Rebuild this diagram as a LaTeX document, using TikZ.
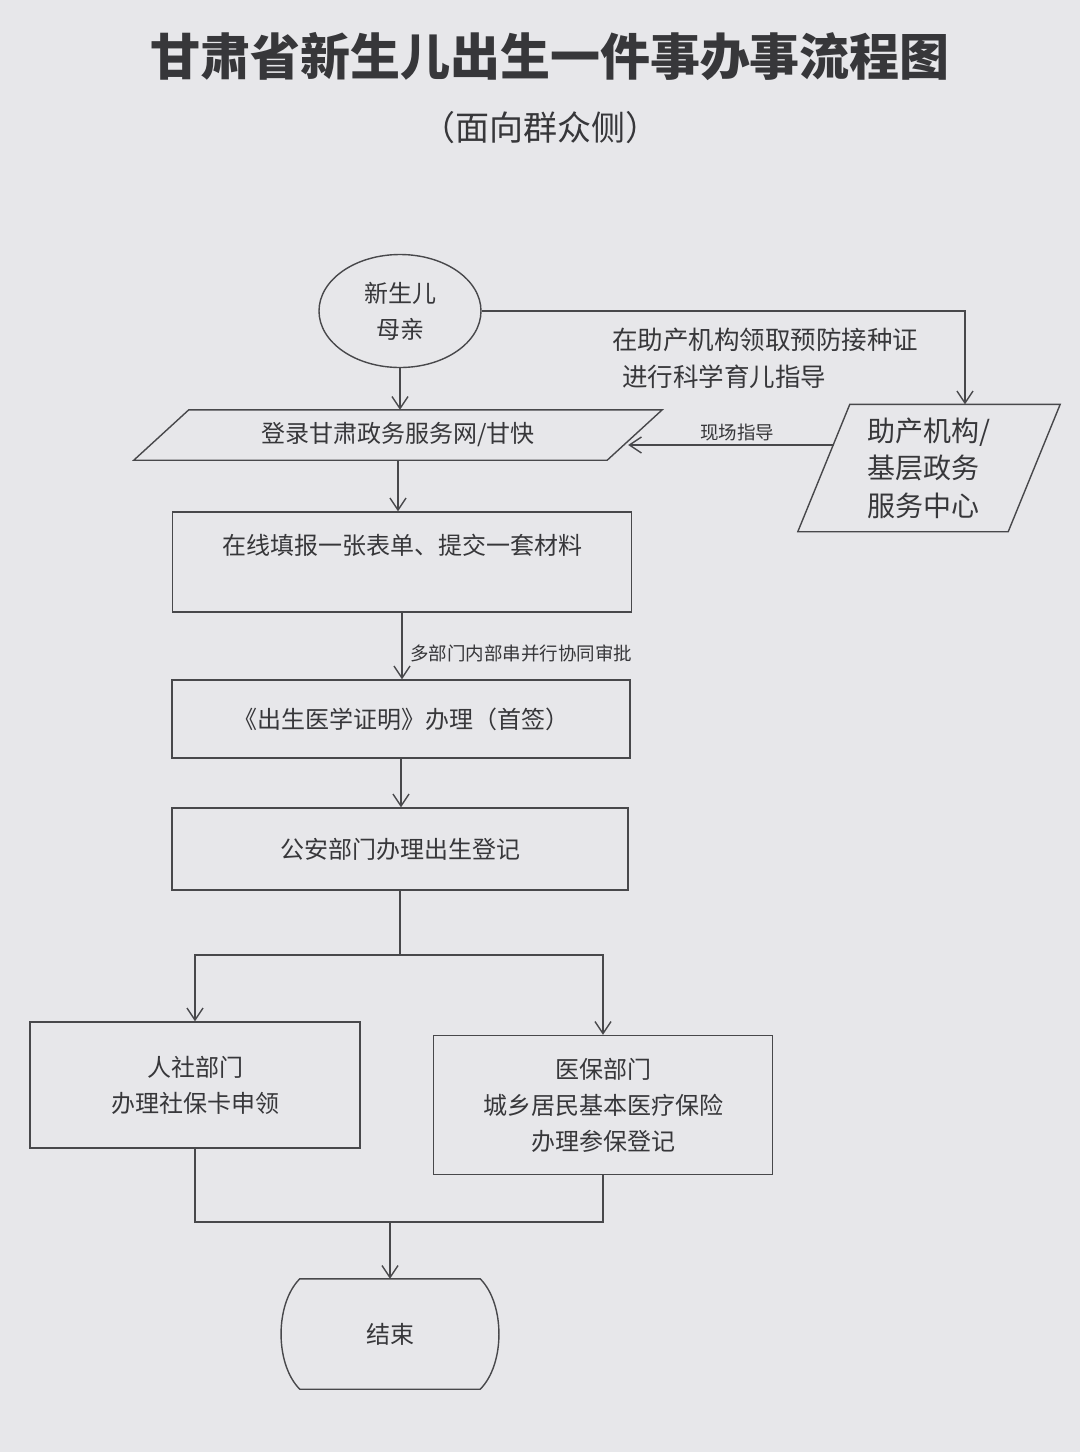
\documentclass[tikz,border=0pt]{standalone}
\usepackage{fontspec}
\setmainfont{Noto Sans CJK SC}
\usetikzlibrary{arrows.meta,calc,shapes.geometric}
\definecolor{paper}{RGB}{231,231,234}
\definecolor{ink}{RGB}{72,72,75}
\definecolor{txt}{RGB}{55,55,58}
\begin{document}
\begin{tikzpicture}[x=1pt,y=-1pt,
  line/.style={draw=ink,line width=1.4pt},
  arr/.style={line,-{Straight Barb[length=12pt,width=16pt]}},
  body/.style={text=txt,font=\fontsize{24}{36}\selectfont,align=center,inner sep=0pt},
  small/.style={text=txt,font=\fontsize{18.5}{22}\selectfont,inner sep=0pt},
  box/.style={line,body,rectangle}]
\fill[paper] (0,0) rectangle (1080,1452);
\useasboundingbox (0,0) rectangle (1080,1452);
% titles
\node[text=txt,font=\fontsize{50}{56}\selectfont\bfseries] (title) at (550,57) {甘肃省新生儿出生一件事办事流程图};
\node[text=txt,font=\fontsize{34}{40}\selectfont] (sub) at (540,128) {（面向群众侧）};
% nodes
\node[line,body,ellipse,minimum width=162,minimum height=113] (mother) at (400,311) {新生儿\\母亲};
\node[body,minimum width=528,minimum height=50] (login) at (398,435) {登录甘肃政务服务网/甘快};
\draw[line] ([xshift=55]login.north west) -- (login.north east) -- ([xshift=-55]login.south east) -- (login.south west) -- cycle;
\node[body,align=left,font=\fontsize{28}{37.5}\selectfont,minimum width=262,minimum height=127] (help) at (929,468) {助产机构/\\基层政务\\服务中心};
\draw[line] ([xshift=52]help.north west) -- (help.north east) -- ([xshift=-52]help.south east) -- (help.south west) -- cycle;
\node[box,minimum width=459,minimum height=100] (fill) at (402,562) {在线填报一张表单、提交一套材料\\\mbox{}};
\node[box,minimum width=458,minimum height=78] (cert) at (401,719) {《出生医学证明》办理（首签）};
\node[box,minimum width=456,minimum height=82] (police) at (400,849) {公安部门办理出生登记};
\node[box,minimum width=330,minimum height=126] (rs) at (195,1085) {人社部门\\办理社保卡申领};
\node[box,minimum width=339,minimum height=139] (yb) at (603,1105) {医保部门\\城乡居民基本医疗保险\\办理参保登记};
\node[body,minimum width=220,minimum height=110] (endn) at (390,1334) {结束};
\draw[line] ([xshift=20]endn.north west) -- ([xshift=-20]endn.north east)
  .. controls ([xshift=5,yshift=-25]endn.north east) and ([xshift=5,yshift=25]endn.south east) .. ([xshift=-20]endn.south east)
  -- ([xshift=20]endn.south west)
  .. controls ([xshift=-5,yshift=25]endn.south west) and ([xshift=-5,yshift=-25]endn.north west) .. ([xshift=20]endn.north west) -- cycle;
% labels
\node[body,align=left,anchor=west,font=\fontsize{25.5}{37}\selectfont] (lbl2) at (612,358) {在助产机构领取预防接种证\\\hspace{10pt}进行科学育儿指导};
\node[small] (lbl3) at (737,432) {现场指导};
\node[small,anchor=west] (lbl1) at (410,653) {多部门内部串并行协同审批};
% connectors
\draw[arr] (mother.south) -- (mother.south |- login.north);
\draw[arr] (mother.east) -| ([xshift=36]help.north);
\draw[arr] ([xshift=36,yshift=23]help.west) -- ([xshift=-34,yshift=-10]login.east);
\draw[arr] (login.south) -- (login.south |- fill.north);
\draw[arr] (fill.south) -- (fill.south |- cert.north);
\draw[arr] (cert.south) -- (cert.south |- police.north);
\coordinate (j1) at (400,955);
\draw[line] (police.south) -- (j1);
\draw[arr] (j1) -| (rs.north);
\draw[arr] (j1) -| (yb.north);
\coordinate (j2) at (390,1222);
\draw[line] (rs.south) |- (j2);
\draw[line] (yb.south) |- (j2);
\draw[arr] (j2) -- (endn.north);
\end{tikzpicture}
\end{document}
